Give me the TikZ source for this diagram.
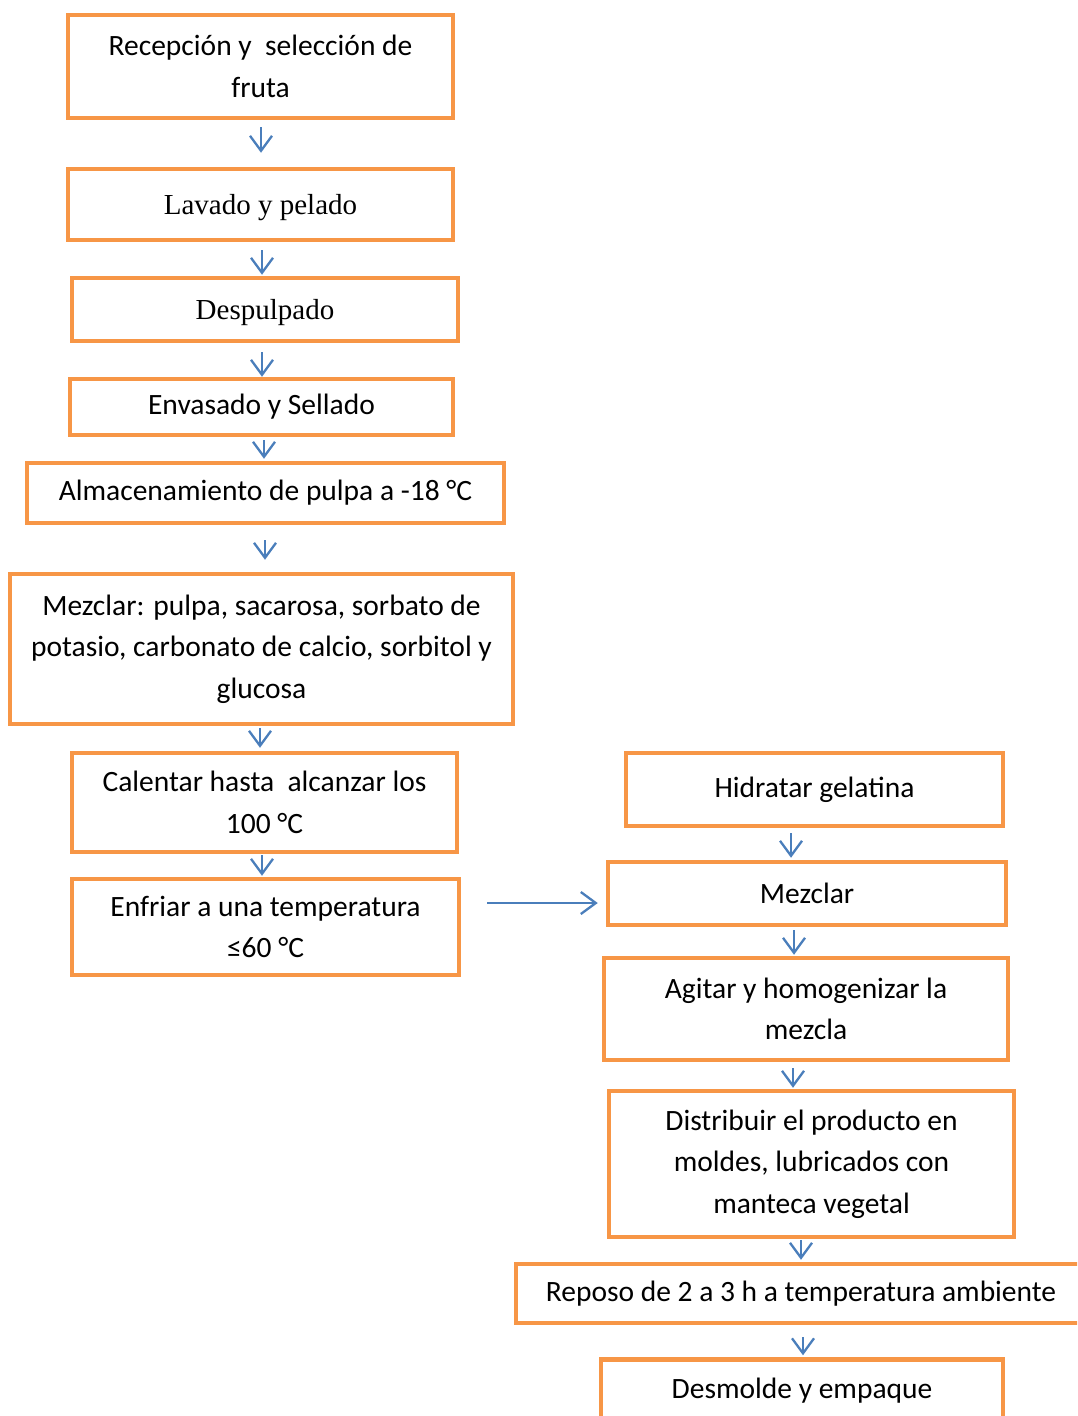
\documentclass[tikz,border=0pt]{standalone}
\usepackage{fontspec}
\setmainfont{Carlito}
\newfontfamily\tnr{Liberation Serif}
\usetikzlibrary{arrows.meta}
\definecolor{boxor}{HTML}{F79646}
\definecolor{arrbl}{HTML}{4A7EBB}
\tikzset{
  box/.style={draw=boxor, line width=4.5pt, fill=white, align=center, inner sep=0pt,
    font=\fontsize{29.5}{41.5}\selectfont},
  serifbox/.style={box, font=\tnr\fontsize{29}{41.5}\selectfont, text height=26pt, text depth=6pt},
  arr/.style={draw=arrbl, line width=2.3pt, -{Straight Barb[length=15pt,width=22pt]}}
}
\begin{document}
\begin{tikzpicture}[x=1pt,y=-1pt]
\clip (0,0) rectangle (1077,1416);
\useasboundingbox (0,0) rectangle (1077,1416);
\fill[white] (0,0) rectangle (1077,1416);
% left column
\node[box, minimum width=385, minimum height=103] (a) at (260.5,66.5) {Recepción y\ \ selección de\\fruta};
\node[serifbox, minimum width=385, minimum height=71] (b) at (260.5,204.5) {Lavado y pelado};
\node[serifbox, minimum width=386, minimum height=63] (c) at (265,309.5) {Despulpado};
\node[box, minimum width=383, minimum height=56] (d) at (261.5,407) {Envasado y Sellado};
\node[box, minimum width=477, minimum height=60] (e) at (265.5,493) {Almacenamiento de pulpa a -18 °C};
\node[box, minimum width=503, minimum height=150] (f) at (261.5,649) {Mezclar: pulpa, sacarosa, sorbato de\\potasio, carbonato de calcio, sorbitol y\\glucosa};
\node[box, minimum width=385, minimum height=99] (g) at (264.5,802.5) {Calentar hasta\ \ alcanzar los\\100 °C};
\node[box, minimum width=387, minimum height=96] (h) at (265.5,927) {Enfriar a una temperatura\\≤60 °C};
% right column
\node[box, minimum width=377, minimum height=73] (i) at (814.5,789.5) {Hidratar gelatina};
\node[box, minimum width=398, minimum height=63] (j) at (807,893.5) {Mezclar};
\node[box, minimum width=404, minimum height=102] (k) at (806,1009) {Agitar y homogenizar la\\mezcla};
\node[box, minimum width=405, minimum height=146] (l) at (811.5,1164) {Distribuir el producto en\\moldes, lubricados con\\manteca vegetal};
\node[box, minimum width=570, minimum height=59] (m) at (801,1293.5) {Reposo de 2 a 3 h a temperatura ambiente};
\node[box, minimum width=402, minimum height=63] (n) at (802,1391) {Desmolde y empaque};
% arrows
\draw[arr, shorten <=7pt, shorten >=14pt] ([xshift=0.5pt]a.south) -- ([xshift=0.5pt]a.south |- b.north);
\draw[arr, shorten <=8pt, shorten >=1pt] ([xshift=1.5pt]b.south) -- ([xshift=1.5pt]b.south |- c.north);
\draw[arr, shorten <=9pt] ([xshift=-3pt]c.south) -- ([xshift=-3pt]c.south |- d.north);
\draw[arr, shorten <=3pt, shorten >=2pt] ([xshift=2.5pt]d.south) -- ([xshift=2.5pt]d.south |- e.north);
\draw[arr, shorten <=15pt, shorten >=12pt] ([xshift=-0.5pt]e.south) -- ([xshift=-0.5pt]e.south |- f.north);
\draw[arr, shorten <=2pt, shorten >=3pt] ([xshift=-1.5pt]f.south) -- ([xshift=-1.5pt]f.south |- g.north);
\draw[arr, shorten <=1pt, shorten >=1pt] ([xshift=-2.5pt]g.south) -- ([xshift=-2.5pt]g.south |- h.north);
\draw[arr, shorten <=26pt, shorten >=8pt] ([yshift=24pt]h.east) -- ([yshift=24pt]h.east -| j.west);
\draw[arr, shorten <=5pt, shorten >=2pt] ([xshift=-23.5pt]i.south) -- ([xshift=-23.5pt]i.south |- j.north);
\draw[arr, shorten <=3pt, shorten >=1pt] ([xshift=-13pt]j.south) -- ([xshift=-13pt]j.south |- k.north);
\draw[arr, shorten <=6pt, shorten >=1pt] ([xshift=-13pt]k.south) -- ([xshift=-13pt]k.south |- l.north);
\draw[arr, shorten <=1pt, shorten >=2pt] ([xshift=-10.5pt]l.south) -- ([xshift=-10.5pt]l.south |- m.north);
\draw[arr, shorten <=12pt, shorten >=2pt] ([xshift=2pt]m.south) -- ([xshift=2pt]m.south |- n.north);
\end{tikzpicture}
\end{document}
